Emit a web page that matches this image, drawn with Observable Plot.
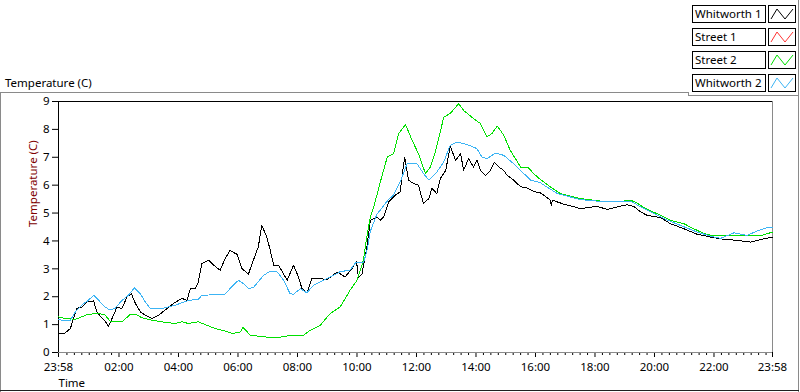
<!DOCTYPE html>
<html>
<head>
<meta charset="utf-8">
<script src="https://cdn.jsdelivr.net/npm/d3@7"></script>
<script src="https://cdn.jsdelivr.net/npm/@observablehq/plot@0.6"></script>
<style>
  html, body { margin: 0; padding: 0; background: #fff; }
  #wrap { position: relative; width: 800px; height: 392px; overflow: hidden; font-family: "Noto Sans", sans-serif; font-size: 11px; color: #000; }
  #chart { position: absolute; left: 0; top: 0; }
  .ln { position: absolute; }
  #ytitleTop { position: absolute; left: 5px; top: 75px; font-size: 11.5px; color: #000; white-space: nowrap; }
  .lgtext { position: absolute; left: 692px; width: 70px; height: 16px; border: 1px solid #000; background: #fff; font-size: 11.5px; line-height: 16px; padding-left: 2px; white-space: nowrap; box-sizing: content-box; overflow: hidden; }
  .lgsw { position: absolute; left: 768px; width: 26px; height: 16px; border: 1px solid #000; background: #fff; }
  .lgsw svg { position: absolute; left: 0; top: 0; }
</style>
</head>
<body>
<div id="wrap">
  <div id="chart"></div>
  <div class="ln" style="left:0;top:92px;width:688px;height:1px;background:#8a8a8a"></div>
  <div class="ln" style="left:688px;top:92px;width:1px;height:4px;background:#8a8a8a"></div>
  <div class="ln" style="left:688px;top:95px;width:111px;height:1px;background:#8a8a8a"></div>
  <div class="ln" style="left:0;top:92px;width:1px;height:300px;background:#8a8a8a"></div>
  <div class="ln" style="left:798px;top:0;width:1px;height:392px;background:#8a8a8a"></div>
  <div class="ln" style="left:0;top:390px;width:799px;height:1px;background:#202020"></div>
  <div id="ytitleTop">Temperature (C)</div>
  <div id="legend"></div>
</div>
<script>
// ---- data ----
const seriesNames = ["Whitworth 1", "Street 1", "Street 2", "Whitworth 2"];
const seriesColors = ["#000000", "#ff3333", "#00e000", "#3cb4f4"];

const yTicks = [0, 1, 2, 3, 4, 5, 6, 7, 8, 9];
const xTickLabels = ["23:58", "02:00", "04:00", "06:00", "08:00", "10:00", "12:00", "14:00", "16:00", "18:00", "20:00", "22:00", "23:58"];

const whitworth1Times = ["23:58","00:11","00:22","00:28","00:35","00:45","00:55","01:09","01:15","01:26","01:32","01:39","01:49","01:56","02:06","02:16","02:25","02:33","02:43","02:53","03:06","03:20","03:33","03:50","04:07","04:17","04:24","04:34","04:40","04:47","05:01","05:11","05:24","05:34","05:44","05:58","06:08","06:21","06:31","06:41","06:48","06:58","07:05","07:12","07:22","07:39","07:52","08:02","08:09","08:19","08:29","08:43","09:00","09:20","09:36","09:50","09:59","10:03","10:10","10:20","10:27","10:40","10:47","10:54","11:04","11:17","11:27","11:36","11:44","11:54","12:04","12:14","12:25","12:31","12:41","12:48","12:59","13:08","13:19","13:29","13:35","13:45","13:55","14:02","14:09","14:19","14:29","14:37","14:46","14:56","15:03","15:16","15:30","15:43","15:56","16:10","16:17","16:30","16:32","16:34","16:57","17:31","18:04","18:25","18:45","19:05","19:18","19:32","19:45","20:12","20:32","20:59","21:26","21:53","22:20","22:47","23:14","23:34","23:58"];
const whitworth1Temps = [0.68,0.70,0.86,1.22,1.58,1.63,1.81,1.85,1.46,1.22,1.13,0.94,1.34,1.63,1.58,1.99,2.11,1.76,1.46,1.34,1.22,1.34,1.52,1.76,1.94,1.87,2.29,2.29,2.53,3.19,3.31,3.13,2.95,3.37,3.66,3.52,3.01,2.81,3.31,3.79,4.56,4.14,3.67,3.13,3.13,2.59,3.13,2.71,2.29,2.14,2.65,2.65,2.62,2.89,2.71,3.01,3.27,2.69,2.81,3.79,4.74,4.86,4.74,4.86,5.40,5.64,5.76,7.01,6.18,6.06,6.00,5.34,5.52,5.88,5.70,6.24,6.53,7.40,6.89,7.13,6.53,6.95,6.65,6.89,6.53,6.35,6.53,6.83,6.65,6.53,6.35,6.18,5.94,5.90,5.78,5.72,5.64,5.46,5.28,5.46,5.32,5.16,5.24,5.13,5.22,5.30,5.24,5.04,4.92,4.84,4.62,4.44,4.24,4.14,4.06,4.02,3.96,4.05,4.14];

const street1Times = [];
const street1Temps = [];

const street2Times = ["23:58","00:11","00:32","00:58","01:19","01:32","01:42","02:06","02:23","02:33","02:46","03:06","03:33","03:54","04:07","04:20","04:40","04:54","05:14","05:28","05:50","06:05","06:10","06:25","07:05","07:32","07:45","08:12","08:26","08:46","09:06","09:26","09:46","10:00","10:13","10:20","10:27","10:35","10:47","11:01","11:14","11:24","11:38","11:51","12:04","12:18","12:28","12:38","12:48","12:55","13:08","13:25","13:35","13:55","14:09","14:22","14:32","14:43","14:56","15:09","15:30","15:46","15:56","16:10","16:30","16:50","17:31","18:11","18:45","19:12","19:25","19:42","20:05","20:32","20:59","21:19","21:39","21:56","22:33","23:34","23:58"];
const street2Temps = [1.28,1.22,1.19,1.37,1.40,1.34,1.13,1.10,1.37,1.37,1.25,1.16,1.08,1.04,1.10,1.04,1.10,1.00,0.86,0.80,0.68,0.74,0.90,0.62,0.54,0.56,0.62,0.62,0.80,0.98,1.40,1.63,2.23,2.59,3.31,4.17,4.86,5.30,6.11,7.01,7.13,7.85,8.17,7.61,7.13,6.42,6.65,7.19,7.91,8.44,8.57,8.92,8.68,8.39,8.21,7.73,7.85,8.12,7.79,7.25,6.65,6.62,6.42,6.20,5.94,5.70,5.52,5.43,5.40,5.46,5.36,5.16,4.98,4.74,4.62,4.44,4.27,4.20,4.18,4.18,4.32];

const whitworth2Times = ["23:58","00:11","00:22","00:32","00:45","00:58","01:09","01:19","01:32","01:42","01:52","02:06","02:19","02:31","02:43","02:53","03:03","03:27","03:54","04:20","04:40","04:47","05:34","05:44","05:54","06:01","06:11","06:21","06:31","06:52","07:05","07:19","07:32","07:45","07:52","08:06","08:19","08:32","08:53","09:13","09:26","09:46","09:57","10:13","10:20","10:27","10:40","11:01","11:14","11:27","11:41","12:01","12:14","12:25","12:41","12:55","13:08","13:22","13:42","14:02","14:12","14:22","14:39","14:56","15:16","15:30","15:50","16:10","16:17","16:44","17:31","18:04","18:38","19:12","19:32","19:59","20:19","20:52","21:26","21:53","22:13","22:40","23:07","23:27","23:47","23:58"];
const whitworth2Temps = [1.19,1.13,1.16,1.46,1.70,1.87,2.05,1.87,1.63,1.52,1.58,1.87,2.05,2.32,2.11,1.81,1.58,1.58,1.70,1.87,1.90,2.05,2.09,2.29,2.47,2.59,2.47,2.29,2.33,2.77,2.92,2.89,2.59,2.11,2.09,2.29,2.14,2.41,2.59,2.77,2.90,2.95,3.21,3.21,3.64,4.35,4.95,5.43,5.66,6.11,6.77,6.77,6.42,6.18,6.47,6.83,7.43,7.55,7.46,7.31,7.01,6.95,7.15,7.07,6.77,6.53,6.18,6.09,6.00,5.70,5.48,5.43,5.40,5.43,5.22,4.98,4.80,4.56,4.32,4.17,4.09,4.29,4.20,4.36,4.48,4.48];

// ---- build ----
function toDate(s, i) {
  const [h, m] = s.split(":").map(Number);
  return new Date(Date.UTC(2000, 0, i === 0 ? 1 : 2, h, m));
}
function rows(name, times, temps) {
  return times.map((t, i) => ({series: name, time: toDate(t, i), temp: temps[i]}));
}
const allSeries = [
  rows(seriesNames[0], whitworth1Times, whitworth1Temps),
  rows(seriesNames[1], street1Times, street1Temps),
  rows(seriesNames[2], street2Times, street2Temps),
  rows(seriesNames[3], whitworth2Times, whitworth2Temps)
];

const start = new Date(Date.UTC(2000, 0, 1, 23, 58));
const end = new Date(Date.UTC(2000, 0, 2, 23, 58));
const majorTicks = xTickLabels.map((s, i) => i === 0 ? start : (i === xTickLabels.length - 1 ? end : toDate(s, i)));
const minorTicks = [];
for (let m = 15; m < 24 * 60; m += 15) {
  if (m % 120 === 0) continue;
  minorTicks.push(new Date(Date.UTC(2000, 0, 2, 0, m)));
}
const labelOf = new Map(majorTicks.map((d, i) => [+d, xTickLabels[i]]));

const lineMarks = allSeries.map((data, i) =>
  Plot.line(data, {x: "time", y: "temp", stroke: seriesColors[i], strokeWidth: 1, shapeRendering: "crispEdges"})
);

const chart = Plot.plot({
  width: 800,
  height: 392,
  marginLeft: 58,
  marginRight: 28,
  marginTop: 101,
  marginBottom: 40,
  style: {fontFamily: "'Noto Sans', sans-serif", fontSize: "11px", color: "#000", background: "transparent"},
  x: {type: "utc", domain: [start, end]},
  y: {domain: [0, 9]},
  marks: [
    Plot.axisY(yTicks, {tickSize: 6, tickPadding: 3, label: null, stroke: "#000", fill: "#000", fontSize: 11.5}),
    Plot.axisX(majorTicks, {tickSize: 5, tickPadding: 5, label: null, tickFormat: d => labelOf.get(+d), stroke: "#000", fill: "#000", fontSize: 11.5}),
    Plot.axisX(minorTicks, {tickSize: 3, label: null, tickFormat: () => "", stroke: "#000"}),
    Plot.ruleY([0], {stroke: "#8a8a8a"}),
    Plot.ruleX([end], {stroke: "#8a8a8a"}),
    Plot.ruleY([9], {stroke: "#000"}),
    Plot.ruleX([start], {stroke: "#000"}),
    ...lineMarks,
    Plot.text(["Temperature (C)"], {frameAnchor: "left", rotate: -90, dx: -25, fill: "#800000", fontSize: 11.5}),
    Plot.text(["Time"], {frameAnchor: "bottom-left", dy: 34, textAnchor: "start", fill: "#000", fontSize: 11.5})
  ]
});
document.getElementById("chart").appendChild(chart);

// ---- legend ----
const legend = document.getElementById("legend");
seriesNames.forEach((name, i) => {
  const top = 5 + i * 23;
  const t = document.createElement("div");
  t.className = "lgtext";
  t.style.top = top + "px";
  t.textContent = name;
  legend.appendChild(t);
  const sw = document.createElement("div");
  sw.className = "lgsw";
  sw.style.top = top + "px";
  sw.innerHTML = `<svg width="26" height="16"><polyline points="2,13 8,3 16,13 24,3" fill="none" stroke="${seriesColors[i]}" stroke-width="1"/></svg>`;
  legend.appendChild(sw);
});
</script>
</body>
</html>
